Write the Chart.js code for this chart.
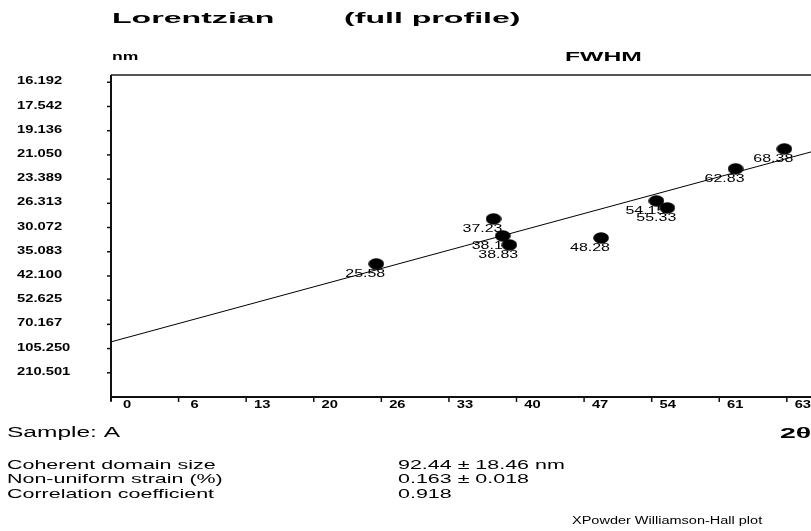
<!DOCTYPE html>
<html>
<head>
<meta charset="utf-8">
<script src="https://cdn.jsdelivr.net/npm/chart.js@4.4.1/dist/chart.umd.min.js"></script>
<style>
  html, body { margin: 0; padding: 0; background: #fff; overflow: hidden; width: 811px; height: 531px; }
  #wrap { position: absolute; left: 0; top: 0; width: 830px; height: 531px; }
</style>
</head>
<body>
<div id="wrap"><canvas id="c" width="830" height="531"></canvas></div>
<script>
// Reflections, 2θ in degrees (also used as the point labels)
const twoTheta = [25.58, 37.23, 38.16, 38.83, 48.28, 54.15, 55.33, 62.83, 68.38];
// Apparent coherent size from each Lorentzian FWHM, nm
const apparentSize = [38.30, 28.62, 31.64, 33.51, 32.04, 25.99, 26.95, 22.34, 20.54];

// Size scale (nm) shown on the FWHM axis, bottom to top
const sizeTickLabels = ['210.501', '105.250', '70.167', '52.625', '42.100', '35.083', '30.072',
                        '26.313', '23.389', '21.050', '19.136', '17.542', '16.192'];
// 2θ labels of the evenly spaced sinθ ticks
const angleTickLabels = ['0', '6', '13', '20', '26', '33', '40', '47', '54', '61', '63'];

// Williamson-Hall fit results
const domainSize = 92.44;       // nm, intercept
const domainSizeErr = 18.46;
const strainPct = 0.163;
const strainErr = 0.018;
const correlation = 0.918;
const fitSlope = 0.0638;        // 1/nm per unit sinθ

const sinStep = 0.0564;
const sizeStep = 1 / parseFloat(sizeTickLabels[0]);

const sinOf = t => Math.sin(t / 2 * Math.PI / 180);
const points = twoTheta.map((t, i) => ({ x: sinOf(t), y: 1 / apparentSize[i] }));
const xMax = 0.59;
const fitLine = [0, xMax].map(s => ({ x: s, y: 1 / domainSize + fitSlope * s }));

// Filled oval marker
const dot = document.createElement('canvas');
dot.width = 16; dot.height = 12;
(function () {
  const g = dot.getContext('2d');
  g.fillStyle = '#000';
  g.beginPath();
  g.ellipse(8, 6, 7.8, 5.8, 0, 0, Math.PI * 2);
  g.fill();
})();

function stretched(ctx, s, x, y, font, sx, align) {
  ctx.save();
  ctx.font = font;
  ctx.textBaseline = 'middle';
  ctx.textAlign = 'left';
  const w = ctx.measureText(s).width * sx;
  const x0 = align === 'center' ? x - w / 2 : align === 'right' ? x - w : x;
  ctx.translate(x0, y);
  ctx.scale(sx, 1);
  ctx.fillStyle = '#000';
  ctx.fillText(s, 0, 0);
  ctx.restore();
}

const TICK_FONT = 'bold 11px "Liberation Sans", Arial, sans-serif';
const LABEL_FONT = '11px "Liberation Sans", Arial, sans-serif';
const TITLE_FONT = 'bold 15px "Liberation Sans", Arial, sans-serif';
const BODY_FONT = '13px "Liberation Sans", Arial, sans-serif';

const frame = {
  id: 'frame',
  beforeDatasetsDraw(chart) {
    const ctx = chart.ctx;
    const meta = chart.getDatasetMeta(0);
    // value labels sit below-left of each marker; later markers cover them
    meta.data.forEach((el, i) => {
      stretched(ctx, twoTheta[i].toFixed(2), el.x - 31, el.y + 10, LABEL_FONT, 1.45, 'left');
    });
  },
  afterDraw(chart) {
    const ctx = chart.ctx;
    const xs = chart.scales.x, ys = chart.scales.y;
    const a = chart.chartArea;
    ctx.save();
    // frame
    ctx.strokeStyle = '#555';
    ctx.lineWidth = 2;
    ctx.beginPath(); ctx.moveTo(a.left, a.top); ctx.lineTo(a.right, a.top); ctx.stroke();
    ctx.strokeStyle = '#111';
    ctx.lineWidth = 2;
    ctx.beginPath();
    ctx.moveTo(a.left, a.top); ctx.lineTo(a.left, a.bottom + 4);
    ctx.moveTo(a.left, a.bottom); ctx.lineTo(a.right, a.bottom);
    ctx.stroke();
    // FWHM ticks with size labels
    ctx.lineWidth = 1.5;
    sizeTickLabels.forEach((lab, i) => {
      const py = ys.getPixelForValue((i + 1) * sizeStep);
      ctx.beginPath(); ctx.moveTo(a.left - 4, py); ctx.lineTo(a.left, py); ctx.stroke();
      stretched(ctx, lab, 17, py - 1, TICK_FONT, 1.34, 'left');
    });
    // sinθ ticks with 2θ labels
    angleTickLabels.forEach((lab, i) => {
      const px = xs.getPixelForValue(i * sinStep);
      ctx.beginPath(); ctx.moveTo(px, a.bottom); ctx.lineTo(px, a.bottom + 5); ctx.stroke();
      stretched(ctx, lab, px + 16, a.bottom + 8, TICK_FONT, 1.34, 'center');
    });
    ctx.restore();

    // headings
    stretched(ctx, 'Lorentzian', 112, 19, TITLE_FONT, 2.14, 'left');
    stretched(ctx, '(full profile)', 344, 19, TITLE_FONT, 2.14, 'left');
    stretched(ctx, 'nm', 112, 57, 'bold 11px "Liberation Sans", Arial, sans-serif', 1.6, 'left');
    stretched(ctx, 'FWHM', 565, 57, 'bold 13px "Liberation Sans", Arial, sans-serif', 1.9, 'left');

    // footer
    stretched(ctx, 'Sample: A', 7, 433, '14px "Liberation Sans", Arial, sans-serif', 1.75, 'left');
    stretched(ctx, '2θ', 780, 434, 'bold 15px "Liberation Sans", Arial, sans-serif', 1.9, 'left');
    const rows = [
      ['Coherent domain size', domainSize.toFixed(2) + ' ± ' + domainSizeErr.toFixed(2) + ' nm'],
      ['Non-uniform strain (%)', strainPct.toFixed(3) + ' ± ' + strainErr.toFixed(3)],
      ['Correlation coefficient', correlation.toFixed(3)]
    ];
    rows.forEach((r, i) => {
      stretched(ctx, r[0], 7, 465 + i * 14.5, BODY_FONT, 1.65, 'left');
      stretched(ctx, r[1], 398, 465 + i * 14.5, BODY_FONT, 1.65, 'left');
    });
    stretched(ctx, 'XPowder Williamson-Hall plot', 572, 521, '10px "Liberation Sans", Arial, sans-serif', 1.45, 'left');
  }
};

new Chart(document.getElementById('c'), {
  type: 'scatter',
  data: {
    datasets: [
      {
        data: points,
        pointStyle: dot,
        pointRadius: 8,
        pointHoverRadius: 8,
        showLine: false,
        order: 1
      },
      {
        data: fitLine,
        showLine: true,
        borderColor: '#000',
        borderWidth: 1,
        pointRadius: 0,
        fill: false,
        order: 2
      }
    ]
  },
  options: {
    responsive: false,
    animation: false,
    events: [],
    layout: { padding: { left: 111, top: 75, right: 12, bottom: 134 } },
    plugins: { legend: { display: false }, tooltip: { enabled: false }, title: { display: false } },
    scales: {
      x: { type: 'linear', display: false, min: 0, max: xMax },
      y: { type: 'linear', display: false, min: 0, max: 13.3 * sizeStep }
    }
  },
  plugins: [frame]
});
</script>
</body>
</html>
